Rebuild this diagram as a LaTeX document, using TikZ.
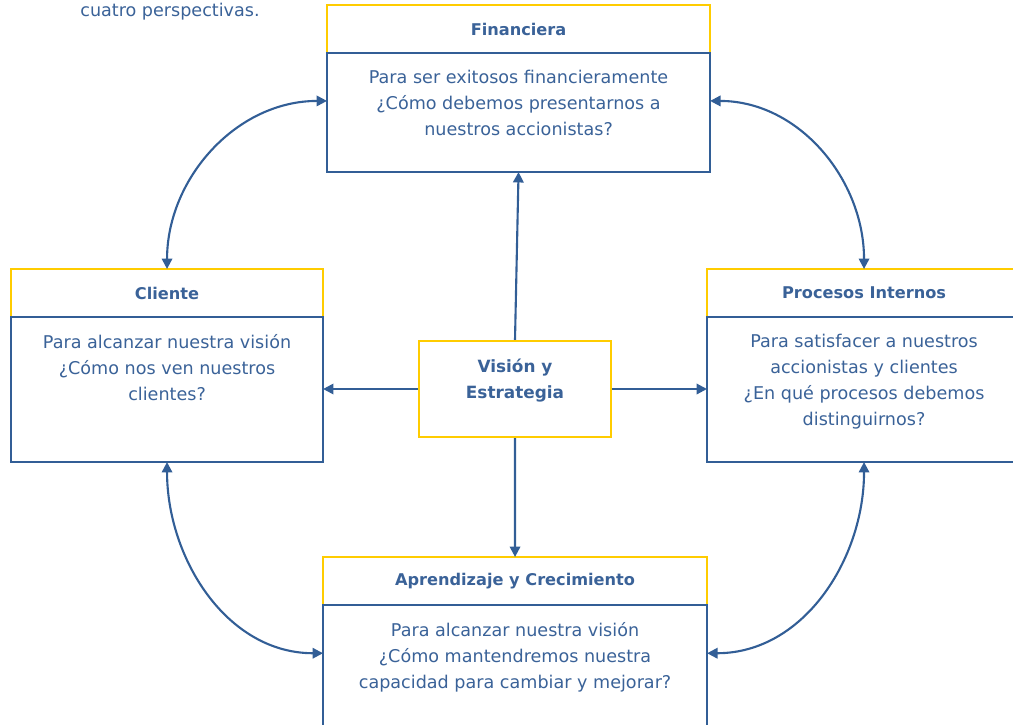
\documentclass[tikz,border=0pt]{standalone}
\usepackage{fontspec}
\setmainfont{DejaVu Sans}
\usetikzlibrary{arrows.meta, positioning}
\definecolor{bscblue}{RGB}{50,94,150}
\definecolor{bsctext}{RGB}{58,98,152}
\definecolor{bscyellow}{RGB}{255,204,0}
\tikzset{
  head/.style={draw=bscyellow, line width=1.5pt, anchor=north west, minimum height=1.2cm, inner sep=0pt, outer sep=0pt, text=bsctext, font=\fontsize{11.5}{13}\selectfont\bfseries},
  body/.style={draw=bscblue, line width=1.5pt, inner sep=0pt, outer sep=0pt},
  txt/.style={align=center, inner sep=0pt, text=bsctext, font=\fontsize{12.5}{18.4}\selectfont},
  core/.style={draw=bscyellow, line width=1.5pt, minimum width=4.8cm, minimum height=2.4cm, inner sep=0pt},
  ctitle/.style={align=center, inner sep=0pt, text=bsctext, font=\fontsize{12}{18.4}\selectfont\bfseries},
  link/.style={-{Triangle[length=2.6mm, width=2.6mm]}, bscblue, line width=1.5pt},
  both/.style={{Triangle[length=2.6mm, width=2.6mm]}-{Triangle[length=2.6mm, width=2.6mm]}, bscblue, line width=1.5pt},
  note/.style={inner sep=0pt, text=bsctext, font=\fontsize{12.5}{13}\selectfont}
}
\begin{document}
\begin{tikzpicture}[x=0.025cm, y=-0.025cm]
    \path[use as bounding box, clip] (0,0) rectangle (1013,724);
    \node[note] (intro) at (170,12) {cuatro perspectivas.};
    % perspectivas
    \node[head, minimum width=9.575cm] (finh) at (327,5) {Financiera};
    \node[body, minimum width=9.575cm, minimum height=2.975cm, below=0pt of finh] (finb) {};
    \node[txt, below=4.3mm of finh] {Para ser exitosos financieramente\\¿Cómo debemos presentarnos a\\nuestros accionistas?};
    \node[head, minimum width=7.8cm] (clih) at (11,269) {Cliente};
    \node[body, minimum width=7.8cm, minimum height=3.625cm, below=0pt of clih] (clib) {};
    \node[txt, below=4.3mm of clih] {Para alcanzar nuestra visión\\¿Cómo nos ven nuestros\\clientes?};
    \node[head, minimum width=7.85cm] (proh) at (707,269) {Procesos Internos};
    \node[body, minimum width=7.85cm, minimum height=3.625cm, below=0pt of proh] (prob) {};
    \node[txt, below=4.3mm of proh] {Para satisfacer a nuestros\\accionistas y clientes\\¿En qué procesos debemos\\distinguirnos?};
    \node[head, minimum width=9.6cm] (aprh) at (323,557) {Aprendizaje y Crecimiento};
    \node[body, minimum width=9.6cm, minimum height=3.65cm, below=0pt of aprh] (aprb) {};
    \node[txt, below=4.3mm of aprh] {Para alcanzar nuestra visión\\¿Cómo mantendremos nuestra\\capacidad para cambiar y mejorar?};
    % centro
    \node[core] (vis) at (515,389) {};
    \node[ctitle, below=4.7mm of vis.north] {Visión y\\Estrategia};
    \draw[link] (vis.north) -- (finb.south);
    \draw[link] (vis.west) -- (vis.west -| clib.east);
    \draw[link] (vis.east) -- (vis.east -| prob.west);
    \draw[link] (vis.south) -- (aprh.north);
    % enlaces curvos
    \draw[both] ([yshift=2.9mm]finb.west) to[out=180, in=90] (clih.north);
    \draw[both] ([yshift=2.9mm]finb.east) to[out=0, in=90] (proh.north);
    \draw[both] (clib.south) to[out=-90, in=180] ([yshift=6.2mm]aprb.west);
    \draw[both] (prob.south) to[out=-90, in=0] ([yshift=6.2mm]aprb.east);
\end{tikzpicture}
\end{document}
